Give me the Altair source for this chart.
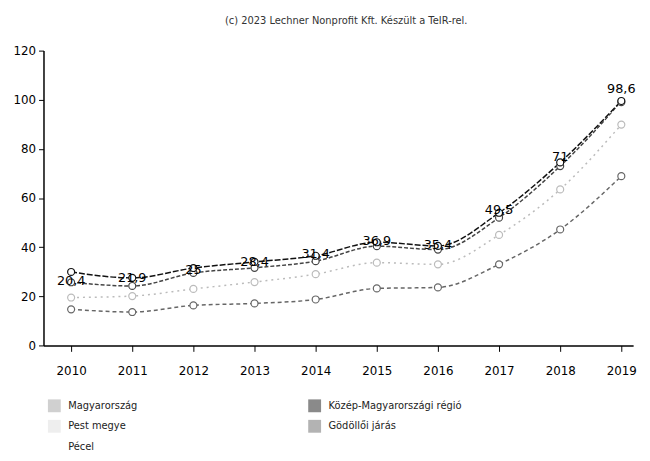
import altair as alt
import pandas as pd

years = [2010, 2011, 2012, 2013, 2014, 2015, 2016, 2017, 2018, 2019]
series_names = ["Magyarország", "Közép-Magyarországi régió", "Pest megye", "Gödöllői járás", "Pécel"]

magyarorszag = [25.7, 24.2, 29.5, 31.6, 34.3, 40.4, 39.0, 52.0, 73.0, 99.0]
kozep_regio = [29.9, 27.5, 31.5, 34.0, 36.5, 42.0, 40.5, 54.0, 74.5, 99.5]
pest_megye = [19.5, 20.1, 23.0, 25.8, 29.0, 33.7, 33.0, 45.0, 63.5, 89.9]
godolloi_jaras = [14.7, 13.6, 16.3, 17.1, 18.7, 23.2, 23.6, 33.0, 47.2, 68.9]
pecel = [20.4, 21.9, 25.0, 28.4, 31.4, 36.9, 35.4, 49.5, 71.0, 98.6]
pecel_labels = ["20,4", "21,9", "25", "28,4", "31,4", "36,9", "35,4", "49,5", "71", "98,6"]

y_ticks = [0, 20, 40, 60, 80, 100, 120]

# legend order (column-major: left column first, then right column)
legend_order = ["Magyarország", "Pest megye", "Pécel", "Közép-Magyarországi régió", "Gödöllői járás"]
legend_swatches = ["#d0d0d0", "#eeeeee", "#ffffff", "#8a8a8a", "#b3b3b3"]

rows = []
for name, vals in zip(series_names, [magyarorszag, kozep_regio, pest_megye, godolloi_jaras, pecel]):
    for yr, v in zip(years, vals):
        rows.append({"year": yr, "value": v, "series": name})
df = pd.DataFrame(rows)
label_df = pd.DataFrame({"year": years, "value": pecel, "label": pecel_labels})
legend_df = pd.DataFrame({"entry": legend_order, "year": [years[0]] * 5, "value": [0] * 5})

line_colors = ["#444444", "#111111", "#bbbbbb", "#666666", "#ffffff"]
dashes = [[4, 2], [6, 2], [2, 4], [4, 3], [1, 0]]

x_enc = alt.X(
    "year:Q",
    scale=alt.Scale(domain=[2009.548, 2019.193], nice=False, zero=False),
    axis=alt.Axis(values=years, format="d", title=None, grid=False,
                  tickSize=6, labelPadding=14, labelFontSize=12),
)
y_enc = alt.Y(
    "value:Q",
    scale=alt.Scale(domain=[0, 120], nice=False),
    axis=alt.Axis(values=y_ticks, title=None, grid=False,
                  tickSize=5, labelPadding=3, labelFontSize=12),
)

stroke_enc = alt.Stroke("series:N", scale=alt.Scale(domain=series_names, range=line_colors), legend=None)
dash_enc = alt.StrokeDash("series:N", scale=alt.Scale(domain=series_names, range=dashes), legend=None)

lines = alt.Chart(df).mark_line(interpolate="monotone", strokeWidth=1.5).encode(
    x=x_enc, y=y_enc, stroke=stroke_enc, strokeDash=dash_enc
)

points = alt.Chart(df).transform_filter(alt.datum.series != "Pécel").mark_point(
    shape="circle", filled=True, fill="white", size=50, strokeWidth=1.2, opacity=1
).encode(x=x_enc, y=y_enc, stroke=stroke_enc)

legend_layer = alt.Chart(legend_df).mark_square(opacity=0.001).encode(
    x=x_enc, y=y_enc,
    fill=alt.Fill(
        "entry:N",
        sort=None,
        scale=alt.Scale(range=legend_swatches),
        legend=alt.Legend(
            title=None, orient="none", legendX=4, legendY=353,
            columns=2, columnPadding=172, rowPadding=7,
            symbolType="square", symbolSize=170, symbolOpacity=1,
            symbolStrokeWidth=0, labelFontSize=10, labelFont="DejaVu Sans",
            labelColor="#222222", labelOffset=7,
        ),
    ),
)

texts = alt.Chart(label_df).mark_text(
    dy=-14, fontSize=13, font="DejaVu Sans", color="black", fontWeight=500
).encode(x=x_enc, y=y_enc, text="label:N")

chart = alt.layer(lines, points, legend_layer, texts).properties(
    width=598,
    height=299,
    background="white",
    title=alt.Title(
        "(c) 2023 Lechner Nonprofit Kft. Készült a TeIR-rel.",
        fontSize=10, fontWeight="normal", font="DejaVu Sans",
        color="#333333", anchor="middle", offset=19, dx=8,
    ),
).configure_view(stroke=None).configure_axis(
    domainColor="black", tickColor="black", labelColor="black",
    labelFont="DejaVu Sans", domainWidth=1.5,
)

chart.save("out.html", embed_options={"renderer": "svg", "actions": False})
